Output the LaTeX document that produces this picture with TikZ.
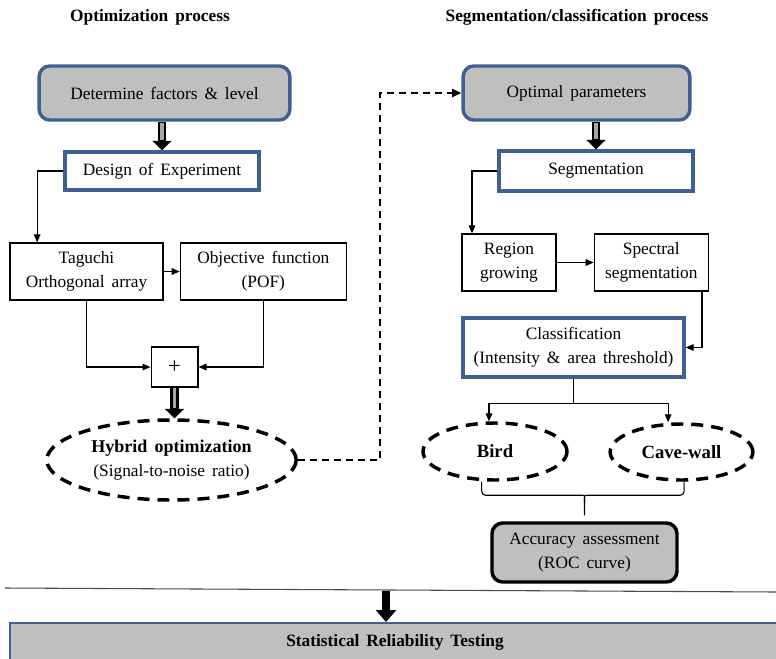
\documentclass[tikz,border=0pt]{standalone}
\usepackage{fontspec}
\setmainfont{Liberation Serif}[WordSpace=1.6]
\usetikzlibrary{shapes.geometric,arrows.meta,positioning,calc}
\definecolor{frameblue}{RGB}{61,98,145}
\definecolor{boxgrey}{RGB}{191,191,191}

\begin{document}
\begin{tikzpicture}[x=0.75pt, y=-0.75pt, font=\fontsize{13}{18}\selectfont,
  greybox/.style={rectangle, draw=frameblue, line width=2.6pt, fill=boxgrey, rounded corners=8pt, align=center},
  bluebox/.style={rectangle, draw=frameblue, line width=2.6pt, fill=white, align=center},
  plainbox/.style={rectangle, draw, line width=1pt, fill=white, align=center, inner sep=2pt},
  dashell/.style={ellipse, draw, line width=2.6pt, dash pattern=on 9pt off 6pt, fill=white, inner sep=0pt, align=center},
  conn/.style={draw, line width=0.8pt, -{Triangle[length=6pt, width=5pt]}},
  fatarrow/.style={line width=6.5pt, -{Triangle[length=7pt, width=14pt]}, postaction={draw=gray!70, line width=2.5pt, -, shorten >=7.5pt, shorten <=0.6pt}}]

\useasboundingbox (0,0) rectangle (776,658);

\node[font=\fontsize{13}{18}\selectfont\bfseries] (opttitle) at (150,17) {Optimization process};

\node[font=\fontsize{13}{18}\selectfont\bfseries] (segtitle) at (577,17) {Segmentation/classification process};

% optimization side
\node[greybox, minimum width=188pt, minimum height=40.5pt] (determine) at (164.5,93) {Determine factors \& level};

\node[bluebox, minimum width=145.5pt, minimum height=28.5pt] (doe) at (162,171) {Design of Experiment};

\node[plainbox, minimum width=114.75pt, minimum height=42.75pt] (taguchi) at (86.5,271.5) {Taguchi\\Orthogonal array};

\node[plainbox, minimum width=124.5pt, minimum height=42.75pt, right=12pt of taguchi] (objective) {Objective function\\(POF)};

\node[plainbox, minimum width=35pt, minimum height=30pt, font=\fontsize{17}{18}\selectfont] (plus) at (174.5,367) {+};

\node[dashell, minimum width=187pt, minimum height=60pt] (hybrid) at (171.5,460) {\fontsize{13.5}{18}\selectfont\textbf{Hybrid optimization}\\(Signal-to-noise ratio)};

% segmentation side
\node[greybox, minimum width=170pt, minimum height=40.5pt] (optimal) at (576.5,93) {Optimal parameters};

\node[bluebox, minimum width=145.5pt, minimum height=30pt] (segmentation) at (596,171) {Segmentation};

\node[plainbox, minimum width=70.5pt, minimum height=42.75pt] (region) at (509,262.5) {Region\\growing};

\node[plainbox, minimum width=85.5pt, minimum height=42.75pt, right=27.75pt of region] (spectral) {Spectral\\segmentation};

\node[bluebox, minimum width=165.75pt, minimum height=44.25pt, inner xsep=2pt] (classification) at (573.5,347.5) {Classification\\(Intensity \& area threshold)};

\node[dashell, minimum width=108pt, minimum height=42.75pt, font=\fontsize{14}{18}\selectfont\bfseries] (bird) at (495,451.5) {Bird};

\node[dashell, minimum width=107pt, minimum height=42pt, font=\fontsize{14}{18}\selectfont\bfseries] (cave) at (681.5,452) {Cave-wall};

\node[greybox, draw=black, minimum width=138.75pt, minimum height=44.25pt] (accuracy) at (584.5,552.5) {Accuracy assessment\\(ROC curve)};

% bottom
\node[rectangle, draw=frameblue, line width=1.5pt, fill=boxgrey, minimum width=577pt, minimum height=28.5pt, font=\fontsize{13}{18}\selectfont\bfseries] (testing) at (395,642) {Statistical Reliability Testing};

% connectors
\draw[fatarrow] (determine.south -| doe.north) -- (doe.north);
\draw[conn] (doe.west) -| ([xshift=-37pt]taguchi.north);
\draw[conn] (taguchi.east) -- (objective.west);
\draw[conn] (taguchi.south) |- (plus.west);
\draw[conn] (objective.south) |- (plus.east);
\draw[fatarrow] (plus.south) -- (plus.south |- hybrid.north);
\draw[line width=1.6pt, dash pattern=on 5pt off 4pt, -{Triangle[length=7pt, width=6pt]}] (hybrid.east) -- ++(82,0) |- (optimal.west);

\draw[fatarrow] (optimal.south -| segmentation.north) -- (segmentation.north);
\draw[conn] (segmentation.west) -| ([xshift=-27.75pt]region.north);
\draw[conn] (region.east) -- (spectral.west);
\draw[conn] ([xshift=38pt]spectral.south) |- (classification.east);
\draw[line width=0.8pt] (classification.south) -- ++(0,25) coordinate (split);
\draw[conn] (split) -| ([xshift=-4.5pt]bird.north);
\draw[conn] (split) -| ([xshift=-10pt]cave.north);

% brace
\coordinate (bl) at ([xshift=-10pt]bird.south);
\coordinate (br) at ([xshift=2pt]cave.south);
\coordinate (tip) at ([yshift=4.5pt]accuracy.north);
\draw[line width=0.8pt, rounded corners=3pt] (bl) |- ($(tip)+(-6,-20)$) .. controls ($(tip)+(0,-20)$) .. ($(tip)+(0,-13)$) -- (tip);
\draw[line width=0.8pt, rounded corners=3pt] (br) |- ($(tip)+(6,-20)$) .. controls ($(tip)+(0,-20)$) .. ($(tip)+(0,-13)$);

\draw[line width=0.8pt, black!70] (5,588) -- (776,592);
\coordinate (drop) at (386,591);
\draw[line width=6pt, -{Triangle[length=9pt, width=15pt]}] (drop) -- (drop |- testing.north);

\end{tikzpicture}
\end{document}
